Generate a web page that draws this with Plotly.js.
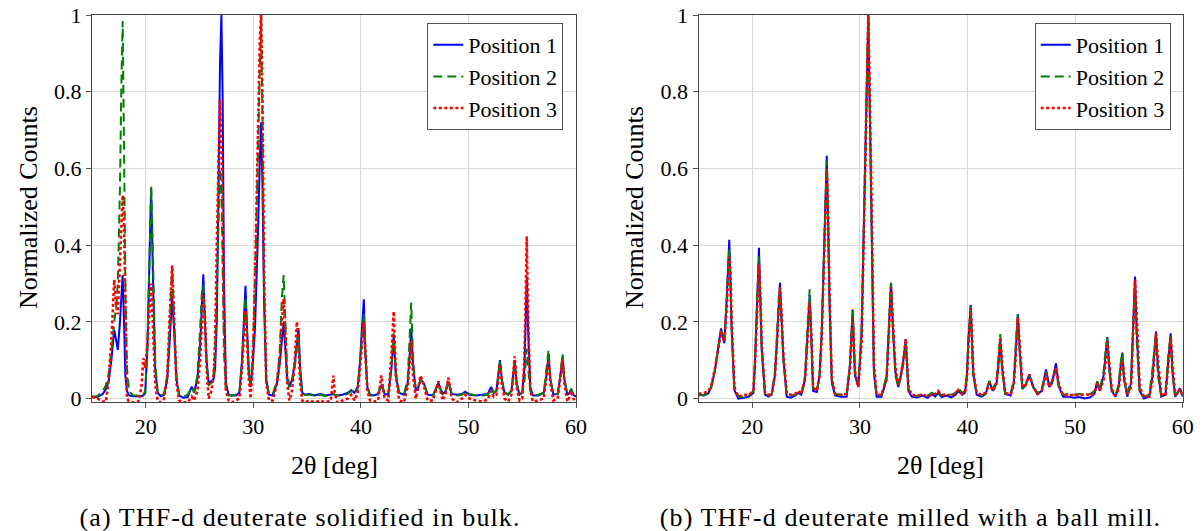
<!DOCTYPE html>
<html>
<head>
<meta charset="utf-8">
<script src="https://cdn.plot.ly/plotly-3.0.1.min.js"></script>
<style>
  html, body { margin: 0; padding: 0; background: #ffffff; }
  #chart { width: 1203px; height: 531px; }
  g.annotation[data-index="4"] text, g.annotation[data-index="5"] text { letter-spacing: 1.1px; }
</style>
</head>
<body>
<div id="chart"></div>
<script>
// ---------- (a) THF-d deuterate solidified in bulk ----------
const bulkTwoTheta = [
  15.0, 15.5, 16.0, 16.3, 16.55, 16.8, 17.07, 17.25, 17.4, 17.6, 17.72, 17.85, 17.98, 18.1, 18.25, 18.45, 18.8,
  19.3, 19.6, 19.77, 19.95, 20.15, 20.32, 20.5, 20.65, 20.87, 21.1, 21.4,
  21.7, 22.0, 22.2, 22.45, 22.65, 22.85, 23.1, 23.5, 23.9,
  24.27, 24.5, 24.8, 25.05, 25.2, 25.35, 25.5, 25.65, 25.85, 26.1,
  26.3, 26.45, 26.6, 26.75, 26.9, 27.03, 27.15, 27.27, 27.45, 27.7, 28.0, 28.4,
  28.7, 28.95, 29.12, 29.27, 29.42, 29.58, 29.75, 29.95, 30.15, 30.3, 30.45, 30.6, 30.72, 30.85, 31.0, 31.2, 31.45,
  31.8, 32.2, 32.45, 32.65, 32.82, 33.0, 33.15, 33.35, 33.6, 33.85, 34.05, 34.2, 34.35, 34.55, 34.8,
  35.2, 35.7, 36.2, 36.7, 37.2, 37.35, 37.45, 37.55, 37.8, 38.3, 38.8, 39.1, 39.4, 39.7,
  39.9, 40.1, 40.27, 40.42, 40.6, 40.85, 41.2,
  41.6, 41.9, 42.2, 42.55, 42.85, 43.05, 43.25, 43.55, 44.0, 44.35, 44.55, 44.68, 44.85, 45.1, 45.35, 45.55, 45.85, 46.2,
  46.7, 47.2, 47.6, 47.9, 48.13, 48.45, 48.9, 49.4, 49.7, 50.1, 50.7, 51.3, 51.8, 52.1, 52.35,
  52.6, 52.78, 52.93, 53.1, 53.35, 53.7, 54.0, 54.15, 54.3, 54.48, 54.75, 55.0, 55.2, 55.32, 55.42, 55.55, 55.75, 56.0, 56.5, 57.0, 57.25, 57.45, 57.62, 57.9, 58.3, 58.55, 58.75, 58.92, 59.2, 59.4, 59.55, 59.75, 60.0
];
const bulkPos1 = [
  0.005, 0.004, 0.012, 0.025, 0.045, 0.1, 0.179, 0.15, 0.127, 0.2, 0.27, 0.322, 0.2, 0.06, 0.02, 0.008, 0.006,
  0.006, 0.006, 0.008, 0.015, 0.13, 0.38, 0.549, 0.34, 0.08, 0.015, 0.006,
  0.01, 0.05, 0.14, 0.266, 0.17, 0.05, 0.008, 0.002, 0.004,
  0.031, 0.018, 0.05, 0.14, 0.24, 0.324, 0.2, 0.1, 0.04, 0.045,
  0.05, 0.08, 0.2, 0.52, 0.87, 1.0, 0.78, 0.3, 0.04, 0.01, 0.008, 0.008,
  0.015, 0.1, 0.2, 0.294, 0.18, 0.07, 0.03, 0.09, 0.18, 0.3, 0.45, 0.62, 0.72, 0.55, 0.25, 0.05, 0.01,
  0.008, 0.04, 0.09, 0.16, 0.2, 0.12, 0.05, 0.03, 0.05, 0.09, 0.15, 0.184, 0.08, 0.015, 0.01,
  0.012, 0.008, 0.012, 0.008, 0.01, 0.012, 0.012, 0.01, 0.008, 0.01, 0.015, 0.022, 0.015, 0.03,
  0.09, 0.18, 0.259, 0.12, 0.03, 0.01, 0.008,
  0.012, 0.035, 0.012, 0.01, 0.08, 0.165, 0.06, 0.015, 0.01, 0.04, 0.12, 0.183, 0.09, 0.02, 0.03, 0.05, 0.04, 0.01,
  0.008, 0.04, 0.012, 0.02, 0.045, 0.012, 0.01, 0.012, 0.018, 0.01, 0.008, 0.01, 0.012, 0.03, 0.015,
  0.02, 0.06, 0.1, 0.05, 0.015, 0.01, 0.02, 0.06, 0.1, 0.04, 0.01, 0.015, 0.08, 0.2, 0.318, 0.18, 0.03, 0.008, 0.008, 0.015, 0.06, 0.115, 0.05, 0.01, 0.012, 0.06, 0.11, 0.05, 0.01, 0.015, 0.025, 0.01, 0.005
];
const bulkPos2 = [
  0.005, 0.006, 0.02, 0.035, 0.065, 0.12, 0.2, 0.24, 0.3, 0.55, 0.8, 0.984, 0.65, 0.3, 0.08, 0.02, 0.008,
  0.008, 0.008, 0.01, 0.02, 0.14, 0.36, 0.553, 0.4, 0.1, 0.02, 0.008,
  0.012, 0.06, 0.18, 0.345, 0.2, 0.06, 0.01, 0.005, 0.01,
  0.03, 0.015, 0.06, 0.18, 0.27, 0.296, 0.18, 0.09, 0.035, 0.04,
  0.06, 0.12, 0.28, 0.45, 0.6, 0.55, 0.35, 0.12, 0.02, 0.008, 0.008, 0.01,
  0.015, 0.09, 0.18, 0.265, 0.17, 0.07, 0.035, 0.12, 0.3, 0.5, 0.7, 0.9, 1.0, 0.74, 0.3, 0.05, 0.01,
  0.01, 0.05, 0.12, 0.26, 0.322, 0.17, 0.07, 0.03, 0.04, 0.08, 0.14, 0.17, 0.07, 0.012, 0.01,
  0.01, 0.008, 0.01, 0.006, 0.01, 0.01, 0.012, 0.01, 0.008, 0.008, 0.012, 0.02, 0.012, 0.025,
  0.08, 0.15, 0.22, 0.11, 0.03, 0.008, 0.008,
  0.01, 0.04, 0.015, 0.012, 0.09, 0.17, 0.07, 0.015, 0.01, 0.05, 0.18, 0.25, 0.1, 0.025, 0.03, 0.05, 0.04, 0.012,
  0.008, 0.035, 0.01, 0.02, 0.045, 0.012, 0.008, 0.01, 0.02, 0.012, 0.008, 0.008, 0.01, 0.025, 0.015,
  0.02, 0.06, 0.1, 0.05, 0.015, 0.012, 0.02, 0.05, 0.095, 0.04, 0.012, 0.015, 0.04, 0.09, 0.13, 0.08, 0.02, 0.008, 0.01, 0.015, 0.07, 0.127, 0.05, 0.012, 0.012, 0.06, 0.115, 0.05, 0.012, 0.015, 0.025, 0.012, 0.008
];
const bulkPos3 = [
  0.004, 0.0, -0.008, -0.008, 0.05, 0.15, 0.31, 0.24, 0.22, 0.36, 0.46, 0.53, 0.45, 0.2, 0.0, -0.008, -0.01,
  -0.008, 0.03, 0.105, 0.08, 0.14, 0.22, 0.3, 0.2, 0.04, -0.005, -0.01,
  0.0, 0.06, 0.2, 0.347, 0.19, 0.04, -0.005, -0.01, -0.01,
  0.005, -0.005, 0.02, 0.1, 0.2, 0.27, 0.22, 0.08, 0.0, 0.02,
  0.06, 0.15, 0.4, 0.6, 0.78, 0.65, 0.52, 0.2, 0.02, -0.005, -0.01, -0.005,
  0.0, 0.08, 0.16, 0.23, 0.15, 0.05, 0.0, 0.1, 0.3, 0.52, 0.75, 0.93, 1.0, 0.78, 0.32, 0.04, -0.005,
  -0.005, 0.04, 0.1, 0.2, 0.26, 0.15, 0.04, -0.005, 0.02, 0.1, 0.2, 0.15, 0.04, -0.005, -0.01,
  -0.005, -0.01, -0.005, -0.01, -0.005, 0.03, 0.06, 0.02, -0.01, -0.005, 0.0, 0.01, -0.005, 0.015,
  0.07, 0.14, 0.2, 0.1, 0.02, -0.005, -0.008,
  -0.005, 0.06, 0.0, -0.005, 0.12, 0.227, 0.06, -0.005, -0.01, 0.03, 0.1, 0.15, 0.06, 0.0, 0.03, 0.06, 0.035, -0.005,
  -0.005, 0.045, -0.005, 0.015, 0.055, 0.0, -0.01, 0.0, 0.01, 0.0, -0.005, -0.008, -0.002, 0.02, 0.005,
  0.01, 0.05, 0.09, 0.04, 0.0, -0.008, 0.01, 0.06, 0.11, 0.03, -0.005, 0.0, 0.1, 0.26, 0.423, 0.2, 0.02, -0.008, -0.005, 0.0, 0.05, 0.1, 0.04, -0.005, 0.0, 0.05, 0.1, 0.04, -0.008, 0.005, 0.02, 0.0, -0.008
];

// ---------- (b) THF-d deuterate milled with a ball mill ----------
const millTwoTheta = [
  15.0, 15.5, 15.9, 16.2, 16.53, 16.84, 17.09, 17.25, 17.4, 17.6, 17.75, 17.86, 17.97, 18.08, 18.33, 18.7,
  19.2, 19.7, 20.1, 20.25, 20.45, 20.62, 20.75, 20.87, 21.18, 21.5,
  21.8, 22.1, 22.3, 22.45, 22.57, 22.7, 22.9, 23.2, 23.6, 24.0,
  24.27, 24.55, 24.9, 25.1, 25.33, 25.5, 25.65, 26.0,
  26.25, 26.45, 26.7, 26.92, 27.05, 27.17, 27.39, 27.7, 28.2, 28.77,
  29.08, 29.2, 29.33, 29.54, 29.85, 30.16, 30.47, 30.65, 30.78, 30.92, 31.09, 31.3, 31.55,
  32.0, 32.48, 32.7, 32.89, 33.1, 33.3, 33.56, 33.8, 34.04, 34.26, 34.51, 34.82,
  35.3, 35.8, 36.3, 36.7, 37.0, 37.26, 37.6, 38.0, 38.5, 38.9, 39.15, 39.5, 39.77,
  39.95, 40.08, 40.18, 40.3, 40.42, 40.54, 40.85, 41.3, 41.7,
  42.03, 42.35, 42.7, 42.88, 43.05, 43.22, 43.5, 44.0, 44.3, 44.5, 44.68, 44.85, 45.1, 45.4, 45.75, 46.1,
  46.5, 46.9, 47.3, 47.6, 47.85, 48.22, 48.5, 48.9,
  49.4, 49.9, 50.4, 50.9, 51.4, 51.8, 52.06, 52.3, 52.65, 52.85, 53.0, 53.15, 53.4, 53.75, 54.05, 54.22, 54.39, 54.55, 54.85, 55.2, 55.4, 55.57, 55.72, 56.0, 56.4, 56.9, 57.2, 57.52, 57.7, 58.0, 58.4, 58.65, 58.88, 59.05, 59.3, 59.55, 59.75, 60.0
];
const millPos1 = [
  0.01, 0.008, 0.013, 0.03, 0.074, 0.135, 0.183, 0.16, 0.144, 0.25, 0.36, 0.414, 0.3, 0.18, 0.022, 0.0,
  0.002, 0.005, 0.015, 0.092, 0.25, 0.393, 0.25, 0.13, 0.01, 0.005,
  0.01, 0.06, 0.15, 0.25, 0.302, 0.22, 0.1, 0.005, 0.002, 0.008,
  0.015, 0.01, 0.05, 0.15, 0.27, 0.15, 0.02, 0.017,
  0.06, 0.17, 0.43, 0.633, 0.45, 0.26, 0.04, 0.008, 0.005, 0.005,
  0.09, 0.16, 0.232, 0.06, 0.03, 0.17, 0.56, 0.85, 1.0, 0.75, 0.48, 0.07, 0.005,
  0.005, 0.05, 0.2, 0.302, 0.17, 0.07, 0.03, 0.06, 0.1, 0.155, 0.02, 0.005,
  0.003, 0.008, 0.002, 0.012, 0.005, 0.015, 0.004, 0.008, 0.003, 0.01, 0.02, 0.01, 0.015,
  0.06, 0.15, 0.2, 0.244, 0.15, 0.065, 0.01, 0.005, 0.012,
  0.045, 0.02, 0.04, 0.09, 0.15, 0.08, 0.012, 0.008, 0.04, 0.13, 0.22, 0.13, 0.025, 0.035, 0.063, 0.03,
  0.012, 0.02, 0.076, 0.03, 0.04, 0.092, 0.03, 0.005,
  0.005, 0.002, 0.004, 0.0, 0.003, 0.012, 0.044, 0.02, 0.06, 0.12, 0.16, 0.09, 0.02, 0.005, 0.03, 0.08, 0.12, 0.05, 0.005, 0.04, 0.2, 0.318, 0.18, 0.02, 0.0, 0.005, 0.06, 0.175, 0.08, 0.005, 0.01, 0.1, 0.17, 0.07, 0.005, 0.015, 0.027, 0.005
];
const millPos2 = [
  0.008, 0.01, 0.015, 0.032, 0.075, 0.13, 0.178, 0.165, 0.15, 0.24, 0.34, 0.39, 0.32, 0.19, 0.03, 0.005,
  0.005, 0.008, 0.02, 0.1, 0.26, 0.37, 0.27, 0.14, 0.015, 0.008,
  0.01, 0.07, 0.17, 0.26, 0.29, 0.22, 0.1, 0.01, 0.008, 0.01,
  0.018, 0.012, 0.06, 0.17, 0.285, 0.14, 0.025, 0.02,
  0.06, 0.17, 0.42, 0.62, 0.47, 0.27, 0.05, 0.012, 0.01, 0.01,
  0.09, 0.16, 0.23, 0.07, 0.035, 0.18, 0.58, 0.87, 1.0, 0.76, 0.5, 0.08, 0.01,
  0.008, 0.06, 0.21, 0.302, 0.16, 0.06, 0.03, 0.055, 0.09, 0.145, 0.025, 0.008,
  0.006, 0.012, 0.008, 0.015, 0.01, 0.018, 0.008, 0.012, 0.01, 0.015, 0.028, 0.015, 0.02,
  0.065, 0.15, 0.21, 0.24, 0.14, 0.06, 0.012, 0.008, 0.015,
  0.046, 0.022, 0.05, 0.11, 0.168, 0.07, 0.012, 0.01, 0.05, 0.15, 0.22, 0.12, 0.025, 0.035, 0.06, 0.03,
  0.015, 0.025, 0.07, 0.035, 0.045, 0.075, 0.025, 0.01,
  0.012, 0.01, 0.012, 0.008, 0.012, 0.02, 0.045, 0.025, 0.07, 0.13, 0.16, 0.08, 0.02, 0.01, 0.035, 0.09, 0.12, 0.05, 0.01, 0.05, 0.21, 0.3, 0.15, 0.02, 0.005, 0.01, 0.08, 0.17, 0.06, 0.008, 0.015, 0.11, 0.165, 0.06, 0.008, 0.018, 0.025, 0.008
];
const millPos3 = [
  0.012, 0.015, 0.018, 0.035, 0.078, 0.13, 0.175, 0.16, 0.15, 0.23, 0.32, 0.37, 0.33, 0.2, 0.03, 0.005,
  0.01, 0.01, 0.02, 0.09, 0.23, 0.35, 0.27, 0.14, 0.015, 0.01,
  0.012, 0.06, 0.15, 0.24, 0.29, 0.23, 0.11, 0.012, 0.01, 0.012,
  0.02, 0.012, 0.05, 0.14, 0.25, 0.16, 0.03, 0.02,
  0.06, 0.16, 0.4, 0.6, 0.47, 0.28, 0.05, 0.012, 0.01, 0.012,
  0.08, 0.15, 0.21, 0.07, 0.03, 0.15, 0.54, 0.85, 1.0, 0.78, 0.52, 0.09, 0.01,
  0.01, 0.05, 0.18, 0.29, 0.18, 0.08, 0.035, 0.06, 0.1, 0.155, 0.03, 0.01,
  0.008, 0.01, 0.006, 0.01, 0.012, 0.02, 0.01, 0.008, 0.01, 0.012, 0.022, 0.012, 0.018,
  0.055, 0.14, 0.19, 0.235, 0.16, 0.07, 0.015, 0.01, 0.015,
  0.04, 0.02, 0.04, 0.09, 0.16, 0.09, 0.015, 0.01, 0.035, 0.12, 0.21, 0.14, 0.03, 0.035, 0.062, 0.032,
  0.012, 0.02, 0.065, 0.03, 0.04, 0.08, 0.035, 0.008,
  0.008, 0.01, 0.008, 0.012, 0.008, 0.015, 0.04, 0.02, 0.05, 0.1, 0.15, 0.1, 0.025, 0.008, 0.025, 0.07, 0.1, 0.06, 0.012, 0.03, 0.17, 0.31, 0.22, 0.03, 0.005, 0.005, 0.05, 0.17, 0.1, 0.012, 0.008, 0.08, 0.16, 0.09, 0.01, 0.015, 0.025, 0.008
];

// ---------- labels ----------
const seriesNames = ['Position 1', 'Position 2', 'Position 3'];
const xTickVals = [20, 30, 40, 50, 60];
const yTickVals = [0, 0.2, 0.4, 0.6, 0.8, 1];
const yTickText = ['0', '0.2', '0.4', '0.6', '0.8', '1'];
const xTitle = '2θ [deg]';
const yTitle = 'Normalized Counts';
const captionA = '(a) THF-d deuterate solidified in bulk.';
const captionB = '(b) THF-d deuterate milled with a ball mill.';

// ---------- styles ----------
const serif = 'Liberation Serif';
const lineStyles = [
  { color: '#0000ff', width: 2 },
  { color: '#008000', width: 2, dash: '9px,5px' },
  { color: '#ff0000', width: 2.6, dash: '3px,2.5px' }
];

function makeTraces(xs, ysList, xa, ya, legendId) {
  return ysList.map((ys, i) => ({
    type: 'scatter', mode: 'lines',
    x: xs, y: ys, name: seriesNames[i],
    xaxis: xa, yaxis: ya, legend: legendId,
    line: lineStyles[i], hoverinfo: 'x+y'
  }));
}

const data = [
  ...makeTraces(bulkTwoTheta, [bulkPos1, bulkPos2, bulkPos3], 'x', 'y', 'legend'),
  ...makeTraces(millTwoTheta, [millPos1, millPos2, millPos3], 'x2', 'y2', 'legend2')
];

const W = 1203, H = 531;
const yDom = [(H - 402) / H, (H - 15) / H];
const xDomA = [92 / W, 576 / W];
const xDomB = [698.5 / W, 1182.7 / W];

function xAxis(dom, anchor) {
  return {
    domain: dom, anchor: anchor, range: [15, 60],
    tickmode: 'array', tickvals: xTickVals,
    ticks: 'outside', ticklen: 5, tickwidth: 1, tickcolor: '#555',
    showline: true, linecolor: '#444', linewidth: 1, mirror: true,
    showgrid: true, gridcolor: '#d9d9d9', gridwidth: 1, zeroline: false,
    tickfont: { family: serif, size: 22, color: '#000' }
  };
}
function yAxis(anchor) {
  return {
    domain: yDom, anchor: anchor, range: [-0.009, 1.0],
    tickmode: 'array', tickvals: yTickVals, ticktext: yTickText,
    ticks: 'outside', ticklen: 5, tickwidth: 1, tickcolor: '#555',
    showline: true, linecolor: '#444', linewidth: 1, mirror: true,
    showgrid: true, gridcolor: '#d9d9d9', gridwidth: 1, zeroline: false,
    tickfont: { family: serif, size: 22, color: '#000' }
  };
}
function legendAt(xRight) {
  return {
    x: xRight, xanchor: 'right', y: (H - 23) / H, yanchor: 'top',
    bgcolor: '#ffffff', bordercolor: '#555', borderwidth: 1,
    font: { family: serif, size: 22, color: '#000' },
    tracegroupgap: 0, itemwidth: 30
  };
}
function ann(text, xpx, ypx, size, angle) {
  return {
    text: text, xref: 'paper', yref: 'paper',
    x: xpx / W, y: (H - ypx) / H, xanchor: 'center', yanchor: 'middle',
    showarrow: false, textangle: angle || 0,
    font: { family: serif, size: size, color: '#000' }
  };
}

const layout = {
  width: W, height: H, autosize: false,
  margin: { l: 0, r: 0, t: 0, b: 0 },
  paper_bgcolor: '#ffffff', plot_bgcolor: '#ffffff',
  showlegend: true,
  font: { family: serif },
  xaxis: xAxis(xDomA, 'y'), yaxis: yAxis('x'),
  xaxis2: xAxis(xDomB, 'y2'), yaxis2: yAxis('x2'),
  legend: legendAt(563.3 / W),
  legend2: legendAt(1170.7 / W),
  annotations: [
    ann(yTitle, 28, 208, 26, -90),
    ann(xTitle, 334, 465, 26),
    ann(yTitle, 634, 208, 26, -90),
    ann(xTitle, 941, 465, 26),
    ann(captionA, 300, 517, 26),
    ann(captionB, 910, 517, 26)
  ]
};

Plotly.newPlot('chart', data, layout, { staticPlot: true, displayModeBar: false });
</script>
</body>
</html>
